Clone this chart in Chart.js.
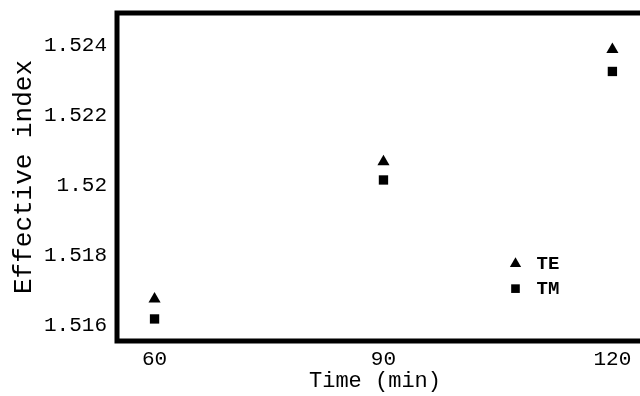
<!DOCTYPE html>
<html>
<head>
<meta charset="utf-8">
<script src="https://cdn.jsdelivr.net/npm/chart.js@4"></script>
<style>
  html, body { margin: 0; padding: 0; background: #fff; overflow: hidden; }
</style>
</head>
<body>
<canvas id="indexChart" width="640" height="396"></canvas>
<script>
var seriesNames = ["TE", "TM"];
var times = [60, 90, 120];
var teValues = [1.51675, 1.52067, 1.52388];
var tmValues = [1.51618, 1.52015, 1.52325];
var xTicks = [60, 90, 120];
var yTicks = [1.516, 1.518, 1.52, 1.522, 1.524];

var mono = "'Liberation Mono', 'DejaVu Sans Mono', monospace";

function points(vals) {
  return times.map(function (t, i) { return {x: t, y: vals[i]}; });
}

// frame on left, top and bottom only (right side runs off the picture)
var framePlugin = {
  id: 'frame',
  afterDatasetsDraw: function (chart) {
    var a = chart.chartArea, ctx = chart.ctx;
    ctx.save();
    ctx.strokeStyle = '#000';
    ctx.lineWidth = 5;
    ctx.lineCap = 'square';
    ctx.beginPath();
    ctx.moveTo(chart.width + 5, a.top);
    ctx.lineTo(a.left, a.top);
    ctx.lineTo(a.left, a.bottom);
    ctx.lineTo(chart.width + 5, a.bottom);
    ctx.stroke();
    ctx.restore();
  }
};

// legend inside the plot, lower right
var innerLegend = {
  id: 'innerLegend',
  afterDraw: function (chart) {
    var ctx = chart.ctx;
    var sx = chart.scales.x, sy = chart.scales.y;
    var lx = sx.getPixelForValue(107.3);
    var ly = sy.getPixelForValue(1.51776);
    ctx.save();
    ctx.font = "bold 19px " + mono;
    ctx.textBaseline = 'middle';
    chart.data.datasets.forEach(function (ds, i) {
      var y = ly + i * 25;
      ctx.fillStyle = '#000';
      Chart.helpers.drawPoint(ctx, {
        pointStyle: ds.pointStyle, radius: ds.pointRadius - 0.5, rotation: 0, borderWidth: 0
      }, lx, y);
      ctx.fillStyle = '#000';
      ctx.fillText(ds.label, lx + 21, y + 1);
    });
    ctx.restore();
  }
};

function noEdgePadding(s) {
  s.paddingTop = 0;
  s.paddingBottom = 0;
  s.paddingLeft = 0;
  s.paddingRight = 0;
}

new Chart("indexChart", {
  type: "scatter",
  data: {
    datasets: [{
      label: seriesNames[0],
      data: points(teValues),
      pointStyle: 'triangle',
      pointRadius: 7,
      backgroundColor: '#000',
      borderColor: '#000',
      borderWidth: 0
    }, {
      label: seriesNames[1],
      data: points(tmValues),
      pointStyle: 'rect',
      pointRadius: 6.6,
      backgroundColor: '#000',
      borderColor: '#000',
      borderWidth: 0
    }]
  },
  options: {
    responsive: false,
    animation: false,
    layout: {padding: {top: 13, right: 0, left: 0, bottom: 0}},
    plugins: {
      legend: {display: false},
      tooltip: {enabled: false}
    },
    scales: {
      x: {
        type: 'linear',
        min: 55.08,
        max: 122.7,
        grid: {display: false, drawTicks: false},
        border: {display: false},
        afterFit: function (s) { s.height = 55; noEdgePadding(s); },
        afterBuildTicks: function (s) { s.ticks = xTicks.map(function (v) { return {value: v}; }); },
        ticks: {
          color: '#000',
          padding: 6,
          maxRotation: 0,
          font: {family: mono, size: 21},
          callback: function (v) { return String(v); }
        },
        title: {
          display: true,
          text: 'Time (min)',
          color: '#000',
          font: {family: mono, size: 22},
          padding: {top: 0, bottom: 2}
        }
      },
      y: {
        min: 1.51555,
        max: 1.52492,
        grid: {display: false, drawTicks: false},
        border: {display: false},
        afterFit: function (s) { s.width = 117; noEdgePadding(s); },
        afterBuildTicks: function (s) { s.ticks = yTicks.map(function (v) { return {value: v}; }); },
        ticks: {
          color: '#000',
          padding: 10,
          font: {family: mono, size: 21},
          callback: function (v) { return String(v); }
        },
        title: {
          display: true,
          text: 'Effective index',
          color: '#000',
          font: {family: mono, size: 26},
          padding: {top: 9, bottom: 0}
        }
      }
    }
  },
  plugins: [framePlugin, innerLegend]
});
</script>
</body>
</html>
